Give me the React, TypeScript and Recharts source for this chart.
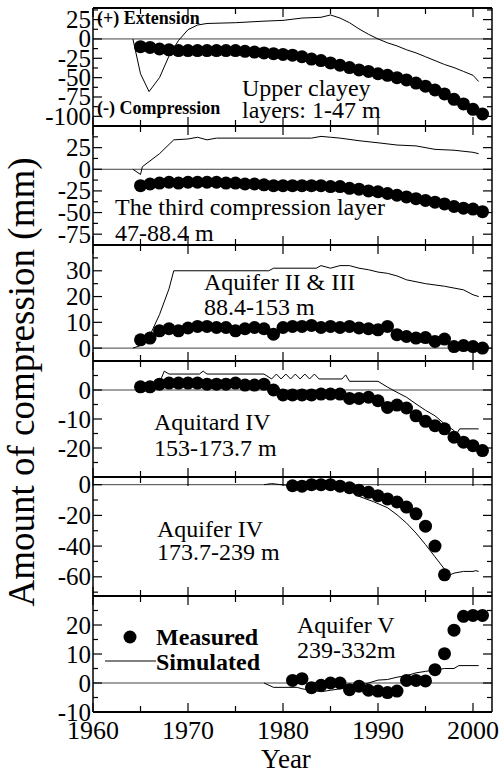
import React from "react";
import { ComposedChart, Line, Scatter, XAxis, YAxis, ReferenceLine } from "recharts";

const FONT = '"Liberation Serif", "Times New Roman", serif';

// x axis
const xTicks = [1960, 1965, 1970, 1975, 1980, 1985, 1990, 1995, 2000];
const xLabels = [1960, 1970, 1980, 1990, 2000];

// measured years
const yearsFull = [
	1965, 1966, 1967, 1968, 1969, 1970, 1971, 1972, 1973, 1974, 1975, 1976, 1977, 1978, 1979, 1980,
	1981, 1982, 1983, 1984, 1985, 1986, 1987, 1988, 1989, 1990, 1991, 1992, 1993, 1994, 1995, 1996,
	1997, 1998, 1999, 2000, 2001,
];
const years81to97 = [1981, 1982, 1983, 1984, 1985, 1986, 1987, 1988, 1989, 1990, 1991, 1992, 1993, 1994, 1995, 1996, 1997];
const years81to01 = [
	1981, 1982, 1983, 1984, 1985, 1986, 1987, 1988, 1989, 1990, 1991, 1992, 1993, 1994, 1995, 1996,
	1997, 1998, 1999, 2000, 2001,
];

// panel 1: upper clayey layers
const upperMeasured = [
	-10, -11, -13, -14, -15, -15, -15, -15, -15, -15, -15, -16, -17, -18, -19, -20, -21, -23, -26, -28,
	-31, -34, -37, -40, -42, -45, -47, -50, -53, -57, -61, -66, -71, -78, -84, -91, -97,
];
const upperSimYears = [
	1964.2, 1965, 1965.9, 1967, 1968, 1969, 1970, 1971, 1972, 1975, 1978, 1980, 1982, 1984, 1985, 1986,
	1987, 1988, 1989, 1990, 1991, 1992, 1993, 1994, 1995, 1996, 1997, 1998, 1999, 2000, 2000.6,
];
const upperSim = [
	0, -45, -68, -50, -22, -2, 12, 18, 20, 21, 23, 24, 27, 28, 31, 27, 21, 13, 6, 0, -5, -9, -14, -18,
	-23, -28, -33, -37, -42, -47, -55,
];
const upperTicks = [-112.5, -100, -87.5, -75, -62.5, -50, -37.5, -25, -12.5, 0, 12.5, 25, 37.5];
const upperLabels = [-100, -75, -50, -25, 0, 25];

// panel 2: third compression layer
const thirdMeasured = [
	-19, -17, -16, -15, -16, -15, -15, -15, -15, -16, -16, -17, -17, -18, -19, -19, -19, -19, -19, -19,
	-20, -20, -22, -23, -25, -26, -28, -30, -32, -34, -36, -38, -40, -43, -45, -46, -49,
];
const thirdSimYears = [
	1964.2, 1965, 1965.2, 1967, 1968.5, 1970, 1971, 1972, 1973, 1983, 1984, 1985, 1986, 1988, 1990,
	1992, 1994, 1996, 1998, 2000, 2000.6,
];
const thirdSim = [0, -6, 3, 18, 34, 35, 37, 34, 36, 36, 38, 37, 36, 33, 30.6, 28, 27, 23, 22, 19.6, 18];
const thirdTicks = [-87.5, -75, -62.5, -50, -37.5, -25, -12.5, 0, 12.5, 25, 37.5, 50];
const thirdLabels = [-75, -50, -25, 0, 25];

// panel 3: aquifer II & III
const aq23Measured = [
	3.2, 3.9, 6.7, 7.5, 6.7, 7.8, 8.4, 8.4, 8, 8, 6.7, 7.5, 8, 7.5, 5.4, 8, 8.4, 8.4, 8.8, 8, 8.4, 8,
	8.4, 7.8, 7.5, 7.1, 8.4, 5.2, 4.5, 3.9, 4.1, 2.6, 3.5, 0.6, 1, 0.6, 0,
];
const aq23SimYears = [
	1964.2, 1965, 1966, 1967, 1968, 1968.5, 1978.5, 1979, 1983.5, 1984, 1985, 1986, 1987, 1988, 1989,
	1990, 1991, 1992, 1993, 1995, 1997, 1999, 2000, 2000.6,
];
const aq23Sim = [0, 1, 5, 13, 23, 30, 30, 31, 31, 32, 31, 32, 32, 31, 30.4, 29.5, 29, 28, 26.5, 25, 24, 22.6, 20.7, 20];
const aq23Ticks = [-5, 0, 5, 10, 15, 20, 25, 30, 35, 40];
const aq23Labels = [0, 10, 20, 30];

// panel 4: aquitard IV
const atd4Measured = [
	1.1, 1.1, 2, 2.4, 2.4, 2.4, 2.4, 2, 2, 2, 2.4, 1.7, 1.7, 2, 0, -1.7, -1.7, -1.7, -1.7, -1.4, -1.4,
	-1.4, -2.9, -2.9, -2.5, -3.7, -6, -5.2, -6.2, -8.9, -10.8, -12.3, -13.4, -16.3, -18, -19.2, -20.9,
];
const atd4SimYears = [
	1965, 1966, 1967, 1967.5, 1968, 1971.2, 1971.6, 1972, 1978, 1978.8, 1979.3, 1979.8, 1980.3, 1980.8,
	1981.3, 1981.8, 1982.3, 1982.8, 1983.3, 1983.8, 1986.2, 1986.6, 1987, 1990, 1991, 1992, 1993, 1994,
	1995, 1996, 1997, 1998, 1998.3, 1998.6, 2000.6,
];
const atd4Sim = [
	1, 1.5, 2.5, 6.5, 5.5, 5.5, 6.5, 5.5, 5.5, 3.8, 5.5, 3.8, 5.5, 3.8, 5.5, 3.8, 5.5, 3.8, 5.5, 3.8,
	3.8, 5.2, 3, 3, 1, -0.8, -2.5, -4.8, -7, -8.9, -11.7, -14, -15, -13.4, -13.4,
];
const atd4Ticks = [-30, -25, -20, -15, -10, -5, 0, 5, 10];
const atd4Labels = [-20, -10, 0];

// panel 5: aquifer IV
const aq4Measured = [-0.7, -1, 0, 0, 0, -1, -2, -3.7, -5, -7.2, -9.3, -11.3, -14.6, -19, -27, -40, -58.7];
const aq4SimYears = [
	1978, 1978.8, 1979.8, 1981, 1985, 1987, 1988, 1989.5, 1991, 1992, 1993, 1994, 1995, 1996, 1997,
	1997.6, 1998, 1999, 2000, 2000.3, 2000.6,
];
const aq4Sim = [0, 0.7, 0, -0.7, -2, -3.7, -7.6, -11, -15, -19.6, -25, -31.5, -39, -47, -55, -58.7, -57.6, -56.5, -56.5, -56, -56.5];
const aq4Ticks = [-70, -60, -50, -40, -30, -20, -10, 0];
const aq4Labels = [-60, -40, -20, 0];

// panel 6: aquifer V
const aq5Measured = [0.9, 1.5, -1.6, -0.8, 0, 0, -2.3, -1.1, -2.5, -2.8, -3.3, -2.8, 0.9, 0.9, 0.7, 4.6, 10.1, 18.2, 23, 23.3, 23.3];
const aq5SimYears = [
	1978, 1979, 1981.5, 1982, 1983, 1984, 1985, 1986, 1988, 1989, 1990, 1991, 1992, 1993, 1994, 1995,
	1996, 1997, 1998, 1998.5, 2000.6,
];
const aq5Sim = [0, -1.5, -1.5, -2, -2.5, -3, -2.5, -2, -1, 0, 1, 1.2, 2, 2.5, 3.5, 4, 4.5, 5, 5, 6, 6];
const aq5Ticks = [-10, -5, 0, 5, 10, 15, 20, 25, 30];
const aq5Labels = [-10, 0, 10, 20];

const pts = (xs: number[], ys: number[]) => ys.map((y, i) => ({ x: xs[i], y }));

type PanelProps = {
	top: number;
	bottom: number;
	domain: [number, number];
	ticks: number[];
	labels: number[];
	measured: { x: number; y: number }[];
	simulated: { x: number; y: number }[];
	showYears?: boolean;
};

function LeftTick(props: any) {
	const { x, y, payload, labels } = props;
	const major = labels.includes(payload.value);
	return (
		<g>
			<line x1={x} x2={x + (major ? 9 : 5)} y1={y} y2={y} stroke="#000" strokeWidth={1.2} />
			{major && (
				<text x={x - 2} y={y} dy="0.34em" textAnchor="end" fontFamily={FONT} fontSize={25} fill="#000">
					{payload.value}
				</text>
			)}
		</g>
	);
}

function RightTick(props: any) {
	const { x, y, payload, labels } = props;
	const major = labels.includes(payload.value);
	return <line x1={x - (major ? 9 : 5)} x2={x} y1={y} y2={y} stroke="#000" strokeWidth={1.2} />;
}

function TopTick(props: any) {
	const { x, y, payload } = props;
	const major = xLabels.includes(payload.value);
	return <line x1={x} x2={x} y1={y} y2={y + (major ? 9 : 6)} stroke="#000" strokeWidth={1.2} />;
}

function BottomTick(props: any) {
	const { x, y, payload, showYears } = props;
	const major = xLabels.includes(payload.value);
	return (
		<g>
			<line x1={x} x2={x} y1={y} y2={y - (major ? 9 : 6)} stroke="#000" strokeWidth={1.2} />
			{showYears && major && (
				<text x={x} y={y + 27} textAnchor="middle" fontFamily={FONT} fontSize={26} fill="#000">
					{payload.value}
				</text>
			)}
		</g>
	);
}

function Panel({ top, bottom, domain, ticks, labels, measured, simulated, showYears }: PanelProps) {
	const extra = showYears ? 62 : 0;
	return (
		<div style={{ position: "absolute", left: 0, top: top - 3 }}>
			<ComposedChart
				width={504}
				height={bottom - top + 6 + extra}
				margin={{ top: 2, right: 0, bottom: 2 + extra, left: 0 }}
			>
				<XAxis
					xAxisId="b"
					type="number"
					dataKey="x"
					domain={[1960, 2002]}
					allowDataOverflow
					ticks={xTicks}
					interval={0}
					height={1}
					tickSize={0}
					tickMargin={0}
					tickLine={false}
					axisLine={{ stroke: "#000", strokeWidth: 2 }}
					tick={(p: any) => <BottomTick {...p} showYears={showYears} />}
				/>
				<XAxis
					xAxisId="t"
					orientation="top"
					type="number"
					dataKey="x"
					domain={[1960, 2002]}
					allowDataOverflow
					ticks={xTicks}
					interval={0}
					height={1}
					tickSize={0}
					tickMargin={0}
					tickLine={false}
					axisLine={{ stroke: "#000", strokeWidth: 2 }}
					tick={(p: any) => <TopTick {...p} />}
				/>
				<YAxis
					yAxisId="l"
					type="number"
					domain={domain}
					allowDataOverflow
					ticks={ticks}
					interval={0}
					width={93}
					tickSize={0}
					tickMargin={0}
					tickLine={false}
					axisLine={{ stroke: "#000", strokeWidth: 1.5 }}
					tick={(p: any) => <LeftTick {...p} labels={labels} />}
				/>
				<YAxis
					yAxisId="r"
					orientation="right"
					type="number"
					domain={domain}
					allowDataOverflow
					ticks={ticks}
					interval={0}
					width={12}
					tickSize={0}
					tickMargin={0}
					tickLine={false}
					axisLine={{ stroke: "#000", strokeWidth: 1.5 }}
					tick={(p: any) => <RightTick {...p} labels={labels} />}
				/>
				<ReferenceLine xAxisId="b" yAxisId="l" y={0} stroke="#444" strokeWidth={1} />
				<Line
					xAxisId="b"
					yAxisId="l"
					data={simulated}
					dataKey="y"
					type="linear"
					stroke="#000"
					strokeWidth={1}
					dot={false}
					isAnimationActive={false}
				/>
				<Scatter
					xAxisId="b"
					yAxisId="l"
					data={measured}
					dataKey="y"
					fill="#000"
					isAnimationActive={false}
					shape={(p: any) => <circle cx={p.cx} cy={p.cy} r={6.5} fill="#000" />}
				/>
			</ComposedChart>
		</div>
	);
}

const txt = { fontFamily: FONT, fill: "#000" };

export default function App() {
	return (
		<div style={{ position: "absolute", left: 0, top: 0, width: 504, height: 774, background: "#fff" }}>
			<style>{`.recharts-surface { overflow: visible; }`}</style>
			<Panel top={8} bottom={126} domain={[-112.5, 40]} ticks={upperTicks} labels={upperLabels}
				measured={pts(yearsFull, upperMeasured)} simulated={pts(upperSimYears, upperSim)} />
			<Panel top={126} bottom={245} domain={[-87.5, 50]} ticks={thirdTicks} labels={thirdLabels}
				measured={pts(yearsFull, thirdMeasured)} simulated={pts(thirdSimYears, thirdSim)} />
			<Panel top={245} bottom={361} domain={[-5, 40]} ticks={aq23Ticks} labels={aq23Labels}
				measured={pts(yearsFull, aq23Measured)} simulated={pts(aq23SimYears, aq23Sim)} />
			<Panel top={361} bottom={477} domain={[-30, 10]} ticks={atd4Ticks} labels={atd4Labels}
				measured={pts(yearsFull, atd4Measured)} simulated={pts(atd4SimYears, atd4Sim)} />
			<Panel top={477} bottom={596} domain={[-72.5, 5]} ticks={aq4Ticks} labels={aq4Labels}
				measured={pts(years81to97, aq4Measured)} simulated={pts(aq4SimYears, aq4Sim)} />
			<Panel top={596} bottom={712} domain={[-10, 30]} ticks={aq5Ticks} labels={aq5Labels}
				measured={pts(years81to01, aq5Measured)} simulated={pts(aq5SimYears, aq5Sim)} showYears />

			<svg width={504} height={774} style={{ position: "absolute", left: 0, top: 0, pointerEvents: "none" }}>
				<text {...txt} x={97} y={24} fontSize={18} fontWeight="bold">(+) Extension</text>
				<text {...txt} x={97} y={114} fontSize={18} fontWeight="bold">(-) Compression</text>
				<text {...txt} x={242} y={96} fontSize={24}>Upper clayey</text>
				<text {...txt} x={242} y={118} fontSize={24}>layers: 1-47 m</text>

				<text {...txt} x={115} y={215} fontSize={24}>The third compression layer</text>
				<text {...txt} x={115} y={241} fontSize={24}>47-88.4 m</text>

				<text {...txt} x={204} y={290} fontSize={24}>Aquifer II &amp; III</text>
				<text {...txt} x={204} y={315} fontSize={24}>88.4-153 m</text>

				<text {...txt} x={154} y={430} fontSize={24}>Aquitard IV</text>
				<text {...txt} x={154} y={456} fontSize={24}>153-173.7 m</text>

				<text {...txt} x={157} y={537} fontSize={24}>Aquifer IV</text>
				<text {...txt} x={157} y={560} fontSize={24}>173.7-239 m</text>

				<text {...txt} x={297} y={633} fontSize={24}>Aquifer V</text>
				<text {...txt} x={297} y={658} fontSize={24}>239-332m</text>

				<circle cx={130} cy={637} r={6.5} fill="#000" />
				<text {...txt} x={156} y={645} fontSize={24} fontWeight="bold">Measured</text>
				<line x1={105} x2={156} y1={661} y2={661} stroke="#000" strokeWidth={1} />
				<text {...txt} x={156} y={670} fontSize={24} fontWeight="bold">Simulated</text>

				<text {...txt} x={286} y={768} fontSize={27} textAnchor="middle">Year</text>
				<text {...txt} transform="translate(34, 382) rotate(-90)" fontSize={37} textAnchor="middle">
					Amount of compression (mm)
				</text>
			</svg>
		</div>
	);
}
